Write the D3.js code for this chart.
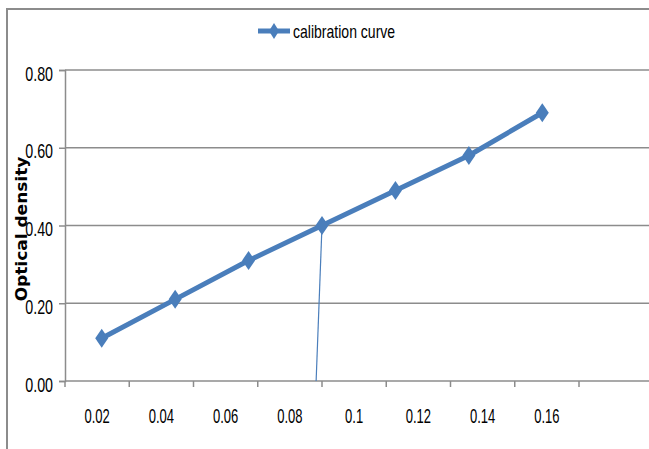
<!DOCTYPE html>
<html>
<head>
<meta charset="utf-8">
<script src="https://cdn.jsdelivr.net/npm/d3@7/dist/d3.min.js"></script>
<style>
  html, body { margin: 0; padding: 0; background: #fff; }
  svg { display: block; }
  .lbl { font-family: "Liberation Sans", Arial, sans-serif; fill: #000; }
</style>
</head>
<body>
<svg id="chart" width="649" height="449"></svg>
<script>
// Category axis labels (concentration)
const categories = ["0.02", "0.04", "0.06", "0.08", "0.1", "0.12", "0.14", "0.16"];
// Calibration series: concentration and measured optical density
const concentration = [0.02, 0.04, 0.06, 0.08, 0.10, 0.12, 0.14];
const opticalDensity = [0.11, 0.21, 0.31, 0.40, 0.49, 0.58, 0.69];
// Value axis ticks
const yTicks = [0, 0.2, 0.4, 0.6, 0.8];
// Reading line dropped from the 0.40 point to the axis
const readingLine = [{ x: 0.08, y: 0.40 }, { x: 0.0784, y: 0 }];

const svg = d3.select("#chart");
const blue = "#4a7ebb";
const grid = "#8c8c8c";

const plotLeft = 65, plotRight = 579, plotTop = 70, plotBottom = 381;

// Outer chart frame
svg.append("path")
  .attr("d", `M7,449 V9 H649`)
  .attr("fill", "none").attr("stroke", grid).attr("stroke-width", 2);

const y = d3.scaleLinear().domain([0, 0.8]).range([plotBottom, plotTop]);
const xCat = d3.scaleBand().domain(categories).range([plotLeft, plotRight]).paddingInner(0).paddingOuter(0);
const xSeries = d3.scaleLinear().domain([0.01, 0.15]).range([plotLeft, plotRight]);

// Horizontal gridlines
svg.append("g").selectAll("line").data(yTicks.filter(d => d > 0)).join("line")
  .attr("x1", plotLeft).attr("x2", 649)
  .attr("y1", d => y(d)).attr("y2", d => y(d))
  .attr("stroke", grid).attr("stroke-width", 1.5);

// Value axis
const yAxis = svg.append("g").attr("transform", `translate(${plotLeft},0)`)
  .call(d3.axisLeft(y).tickValues(yTicks).tickSize(6).tickFormat(""));
yAxis.select(".domain").attr("stroke", grid).attr("stroke-width", 1.5);
yAxis.selectAll(".tick line").attr("stroke", grid).attr("stroke-width", 1.5);

svg.append("g").selectAll("text").data(yTicks).join("text")
  .attr("class", "lbl")
  .attr("text-anchor", "end")
  .attr("font-size", 21)
  .attr("transform", d => `translate(53,${y(d) + 10.5}) scale(0.68,1)`)
  .text(d => d3.format(".2f")(d));

// Category axis
const xAxisLine = svg.append("g");
xAxisLine.append("line")
  .attr("x1", plotLeft).attr("x2", 649).attr("y1", plotBottom).attr("y2", plotBottom)
  .attr("stroke", grid).attr("stroke-width", 1.5);
const boundaries = categories.map(c => xCat(c)).concat([plotRight]);
xAxisLine.selectAll("line.tk").data(boundaries).join("line")
  .attr("class", "tk")
  .attr("x1", d => d).attr("x2", d => d)
  .attr("y1", plotBottom).attr("y2", plotBottom + 6)
  .attr("stroke", grid).attr("stroke-width", 1.5);

svg.append("g").selectAll("text").data(categories).join("text")
  .attr("class", "lbl")
  .attr("text-anchor", "middle")
  .attr("font-size", 21)
  .attr("transform", d => `translate(${xCat(d) + xCat.bandwidth() / 2},423) scale(0.62,1)`)
  .text(d => d);

// Axis title
svg.append("text")
  .attr("transform", `translate(27,229) rotate(-90) scale(1,0.88)`)
  .attr("text-anchor", "middle")
  .attr("font-family", "DejaVu Sans, Verdana, sans-serif")
  .attr("font-weight", "bold")
  .attr("font-size", 17)
  .attr("fill", "#000")
  .text("Optical density");

// Reading line
svg.append("path")
  .datum(readingLine)
  .attr("d", d3.line().x(d => xSeries(d.x)).y(d => y(d.y)))
  .attr("fill", "none").attr("stroke", blue).attr("stroke-width", 1.2);

// Calibration line
const pts = concentration.map((c, i) => ({ x: c, y: opticalDensity[i] }));
svg.append("path")
  .datum(pts)
  .attr("d", d3.line().x(d => xSeries(d.x)).y(d => y(d.y)))
  .attr("fill", "none").attr("stroke", blue).attr("stroke-width", 5)
  .attr("stroke-linejoin", "round");

const diamond = (cx, cy, w, h) => `M${cx},${cy - h} L${cx + w},${cy} L${cx},${cy + h} L${cx - w},${cy} Z`;
svg.append("g").selectAll("path").data(pts).join("path")
  .attr("d", d => diamond(xSeries(d.x), y(d.y), 6.5, 9.5))
  .attr("fill", blue);

// Legend
const lg = svg.append("g");
lg.append("line").attr("x1", 258).attr("x2", 290).attr("y1", 31).attr("y2", 31)
  .attr("stroke", blue).attr("stroke-width", 5);
lg.append("path").attr("d", diamond(274, 31, 5, 8)).attr("fill", blue);
lg.append("text").attr("class", "lbl")
  .attr("font-size", 18)
  .attr("transform", "translate(293,38) scale(0.78,1)")
  .text("calibration curve");
</script>
</body>
</html>
